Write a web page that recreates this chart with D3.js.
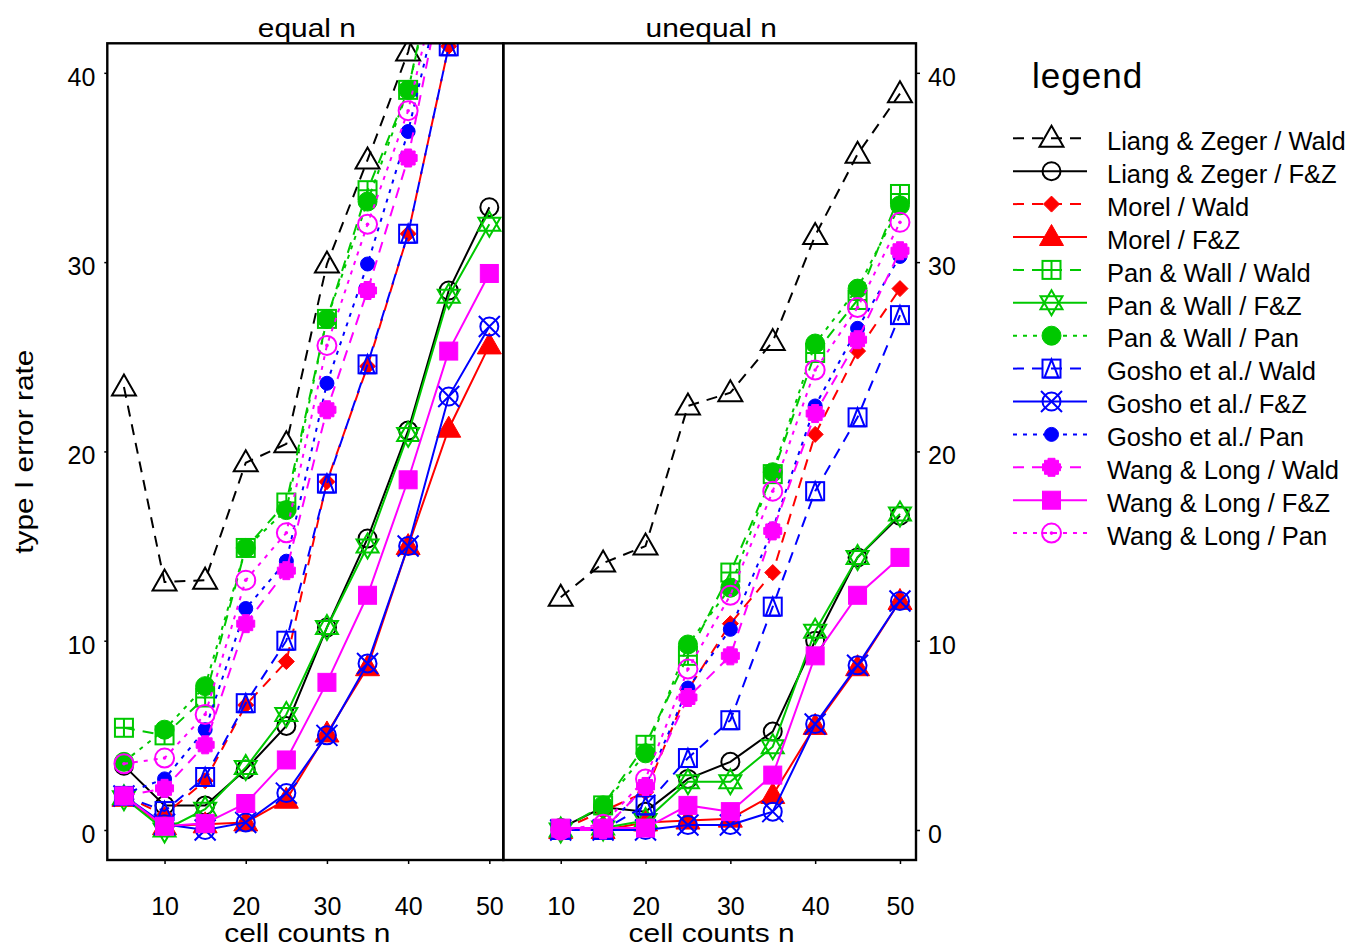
<!DOCTYPE html>
<html><head><meta charset="utf-8">
<script src="https://cdn.jsdelivr.net/npm/d3@7"></script>
<style>
html,body{margin:0;padding:0;background:#fff;}
svg{display:block;font-family:"Liberation Sans",Arial,Helvetica,sans-serif;}
</style></head><body>
<svg id="chart" width="1349" height="949"></svg>
<script>
// ---------------- DATA ----------------
const nEqual = [5, 10, 15, 20, 25, 30, 35, 40, 45, 50];
const nUnequal = [10, 15, 20, 25, 30, 35, 40, 45, 50];
const xTicks = [10, 20, 30, 40, 50];
const yTicks = [0, 10, 20, 30, 40];
const panelTitles = ["equal n", "unequal n"];
const xTitle = "cell counts n";
const yTitle = "type I error rate";
const legendTitle = "legend";

const seriesNames = [
  "Liang & Zeger / Wald", "Liang & Zeger / F&Z", "Morel / Wald", "Morel / F&Z",
  "Pan & Wall / Wald", "Pan & Wall / F&Z", "Pan & Wall / Pan",
  "Gosho et al./ Wald", "Gosho et al./ F&Z", "Gosho et al./ Pan",
  "Wang & Long / Wald", "Wang & Long / F&Z", "Wang & Long / Pan"
];

// equal n (n = 5..50)
const lzWaldEq   = [23.4, 13.1, 13.2, 19.4, 20.4, 29.9, 35.4, 41.1, 50.0, 56.0];
const lzFzEq     = [3.4, 1.3, 1.3, 3.2, 5.5, 10.7, 15.4, 21.1, 28.5, 32.9];
const morWaldEq  = [1.8, 0.8, 2.6, 6.6, 8.9, 18.4, 24.5, 31.5, 41.4, 51.0];
const morFzEq    = [1.7, 0.2, 0.3, 0.4, 1.6, 5.1, 8.6, 15.0, 21.2, 25.6];
const pwWaldEq   = [5.4, 5.0, 7.0, 14.9, 17.3, 27.0, 33.8, 39.1, 49.0, 55.0];
const pwFzEq     = [1.7, 0.0, 1.1, 3.3, 6.1, 10.7, 15.0, 20.9, 28.2, 32.0];
const pwPanEq    = [3.6, 5.3, 7.6, 14.9, 16.9, 27.0, 33.2, 39.1, 48.5, 54.0];
const goWaldEq   = [1.8, 1.0, 2.8, 6.7, 10.0, 18.3, 24.6, 31.5, 41.4, 51.0];
const goFzEq     = [1.8, 0.3, 0.0, 0.4, 1.95, 5.0, 8.8, 15.0, 22.9, 26.6];
const goPanEq    = [1.9, 2.7, 5.3, 11.7, 14.2, 23.6, 29.9, 36.9, 46.0, 52.0];
const wlWaldEq   = [1.8, 2.2, 4.5, 10.9, 13.7, 22.2, 28.5, 35.5, 46.3, 53.0];
const wlFzEq     = [1.8, 0.2, 0.35, 1.4, 3.7, 7.8, 12.4, 18.5, 25.3, 29.4];
const wlPanEq    = [3.5, 3.8, 6.1, 13.2, 15.7, 25.6, 32.0, 38.0, 47.2, 53.0];

// unequal n (n = 10..50)
const lzWaldUn   = [12.3, 14.1, 15.0, 22.4, 23.1, 25.8, 31.4, 35.7, 38.9];
const lzFzUn     = [0.1, 1.2, 0.97, 2.7, 3.6, 5.2, 10.0, 14.4, 16.6];
const morWaldUn  = [0.0, 1.0, 2.0, 7.4, 10.9, 13.6, 20.9, 25.3, 28.6];
const morFzUn    = [0.0, 0.0, 0.4, 0.5, 0.6, 1.85, 5.5, 8.6, 12.1];
const pwWaldUn   = [0.0, 1.3, 4.5, 9.2, 13.6, 18.8, 25.2, 28.0, 33.6];
const pwFzUn     = [0.0, 0.1, 0.5, 2.55, 2.55, 4.4, 10.5, 14.4, 16.7];
const pwPanUn    = [0.0, 1.3, 4.05, 9.8, 12.8, 18.9, 25.7, 28.6, 33.0];
const goWaldUn   = [0.0, 0.0, 1.3, 3.8, 5.8, 11.8, 17.9, 21.8, 27.2];
const goFzUn     = [0.0, 0.0, 0.0, 0.26, 0.26, 0.97, 5.6, 8.7, 12.1];
const goPanUn    = [0.0, 0.0, 2.3, 7.5, 10.6, 15.9, 22.4, 26.5, 30.3];
const wlWaldUn   = [0.0, 0.0, 2.3, 7.0, 9.2, 15.8, 22.0, 25.9, 30.6];
const wlFzUn     = [0.1, 0.1, 0.1, 1.3, 0.97, 2.9, 9.2, 12.4, 14.4];
const wlPanUn    = [0.0, 0.3, 2.7, 8.5, 12.4, 17.9, 24.3, 27.6, 32.1];

const equalValues = [lzWaldEq, lzFzEq, morWaldEq, morFzEq, pwWaldEq, pwFzEq, pwPanEq,
  goWaldEq, goFzEq, goPanEq, wlWaldEq, wlFzEq, wlPanEq];
const unequalValues = [lzWaldUn, lzFzUn, morWaldUn, morFzUn, pwWaldUn, pwFzUn, pwPanUn,
  goWaldUn, goFzUn, goPanUn, wlWaldUn, wlFzUn, wlPanUn];

// ---------------- STYLES ----------------
const BLACK = "#000000", RED = "#ff0000", GREEN = "#00c800", BLUE = "#0000ff", MAG = "#ff00ff";
const styles = [
  {color: BLACK, dash: "wald", mk: "triOpen"},
  {color: BLACK, dash: "solid", mk: "circleOpen"},
  {color: RED,   dash: "wald", mk: "diamond"},
  {color: RED,   dash: "solid", mk: "triFilled"},
  {color: GREEN, dash: "wald", mk: "squarePlus"},
  {color: GREEN, dash: "solid", mk: "star"},
  {color: GREEN, dash: "pan", mk: "circleFilled"},
  {color: BLUE,  dash: "wald", mk: "squareTri"},
  {color: BLUE,  dash: "solid", mk: "circleX"},
  {color: BLUE,  dash: "pan", mk: "dot"},
  {color: MAG,   dash: "wald", mk: "oct"},
  {color: MAG,   dash: "solid", mk: "squareFilled"},
  {color: MAG,   dash: "pan", mk: "circleDot"}
];
const dashArr = {wald: "11,8", solid: null, pan: "4,6"};

function marker(g, type, color) {
  const sw = 2;
  const open = sel => sel.attr("fill", "none").attr("stroke", color).attr("stroke-width", sw);
  const fill = sel => sel.attr("fill", color).attr("stroke", color).attr("stroke-width", 1);
  switch (type) {
    case "triOpen": open(g.append("path").attr("d", "M0,-12.5L12,8.5L-12,8.5Z")); break;
    case "triFilled": fill(g.append("path").attr("d", "M0,-12.5L12,8.5L-12,8.5Z")); break;
    case "circleOpen": open(g.append("circle").attr("r", 9)); break;
    case "diamond": fill(g.append("path").attr("d", "M0,-8L8,0L0,8L-8,0Z")); break;
    case "squarePlus":
      open(g.append("rect").attr("x", -9).attr("y", -9).attr("width", 18).attr("height", 18));
      open(g.append("path").attr("d", "M0,-9V9M-9,0H9")); break;
    case "star": open(g.append("path").attr("d", "M0,-12.5L11,6.5L-11,6.5Z M0,12.5L11,-6.5L-11,-6.5Z")); break;
    case "circleFilled": fill(g.append("circle").attr("r", 9.5)); break;
    case "squareTri":
      open(g.append("rect").attr("x", -9).attr("y", -9).attr("width", 18).attr("height", 18));
      open(g.append("path").attr("d", "M0,-9L7,9L-7,9Z")); break;
    case "circleX":
      open(g.append("circle").attr("r", 9));
      open(g.append("path").attr("d", "M-10.5,-10.5L10.5,10.5M10.5,-10.5L-10.5,10.5")); break;
    case "dot": fill(g.append("circle").attr("r", 7)); break;
    case "oct":
      fill(g.append("path").attr("d",
        "M-3.5,-9L3.5,-9L3.5,-7L7,-7L7,-3.5L9,-3.5L9,3.5L7,3.5L7,7L3.5,7L3.5,9L-3.5,9L-3.5,7L-7,7L-7,3.5L-9,3.5L-9,-3.5L-7,-3.5L-7,-7L-3.5,-7Z"));
      break;
    case "squareFilled": fill(g.append("rect").attr("x", -9).attr("y", -9).attr("width", 18).attr("height", 18)); break;
    case "circleDot":
      open(g.append("circle").attr("r", 9.5));
      g.append("circle").attr("r", 1.8).attr("fill", color); break;
  }
}

// ---------------- LAYOUT ----------------
const svg = d3.select("#chart");
const TOP = 43.3, BOTTOM = 860;
const y = d3.scaleLinear().domain([-1.585, 41.56]).range([BOTTOM, TOP]);
const TITLE_STRETCH = 1.15;

const panels = [
  {title: panelTitles[0], x0: 107.3, x1: 503.3, domain: [2.95, 51.72], n: nEqual, data: equalValues},
  {title: panelTitles[1], x0: 503.3, x1: 916, domain: [3.23, 51.89], n: nUnequal, data: unequalValues}
];

const defs = svg.append("defs");

function stretchedText(cx, by, size, txt, rot) {
  return svg.append("text")
    .attr("transform", `translate(${cx},${by})${rot ? " rotate(" + rot + ")" : ""} scale(${TITLE_STRETCH},1)`)
    .attr("text-anchor", "middle").attr("font-size", size).text(txt);
}

panels.forEach((p, pi) => {
  const x = d3.scaleLinear().domain(p.domain).range([p.x0, p.x1]);
  p.x = x;
  defs.append("clipPath").attr("id", "clip" + pi)
    .append("rect").attr("x", p.x0).attr("y", TOP).attr("width", p.x1 - p.x0).attr("height", BOTTOM - TOP);
  const g = svg.append("g").attr("clip-path", `url(#clip${pi})`);
  const line = d3.line().x(d => x(d[0])).y(d => y(d[1]));
  p.data.forEach((vals, si) => {
    const st = styles[si];
    const pts = p.n.map((nn, i) => [nn, vals[i]]);
    g.append("path").attr("d", line(pts)).attr("fill", "none")
      .attr("stroke", st.color).attr("stroke-width", 2)
      .attr("stroke-dasharray", dashArr[st.dash]);
    pts.forEach(d => {
      const mg = g.append("g").attr("transform", `translate(${x(d[0])},${y(d[1])})`);
      marker(mg, st.mk, st.color);
    });
  });

  // x axis
  const xa = svg.append("g").attr("transform", `translate(0,${BOTTOM})`)
    .call(d3.axisBottom(x).tickValues(xTicks).tickSize(4).tickFormat(d3.format("d")));
  xa.select(".domain").remove();
  xa.selectAll(".tick line").attr("stroke", "#000").attr("stroke-width", 1.5);
  xa.selectAll("text").attr("y", 55).attr("dy", 0).attr("font-size", 25)
    .attr("fill", "#000").style("font-family", "'Liberation Sans',Arial,sans-serif");

  // panel title and x title
  stretchedText((p.x0 + p.x1) / 2 + 1.5, 36.7, 26, p.title);
  stretchedText((p.x0 + p.x1) / 2 + 2, 942, 26, xTitle);
});

// y axes
const ya = svg.append("g").attr("transform", `translate(${panels[0].x0},0)`)
  .call(d3.axisLeft(y).tickValues(yTicks).tickSize(3).tickPadding(9));
ya.select(".domain").remove();
ya.selectAll(".tick line").attr("stroke", "#000").attr("stroke-width", 1.5);
ya.selectAll("text").attr("dy", 12.5).attr("font-size", 25).attr("fill", "#000")
  .style("font-family", "'Liberation Sans',Arial,sans-serif");

const yr = svg.append("g").attr("transform", `translate(${panels[1].x1},0)`)
  .call(d3.axisRight(y).tickValues(yTicks).tickSize(4).tickPadding(8));
yr.select(".domain").remove();
yr.selectAll(".tick line").attr("stroke", "#000").attr("stroke-width", 1.5);
yr.selectAll("text").attr("dy", 12.5).attr("font-size", 25).attr("fill", "#000")
  .style("font-family", "'Liberation Sans',Arial,sans-serif");

// frames
panels.forEach(p => {
  svg.append("rect").attr("x", p.x0).attr("y", TOP).attr("width", p.x1 - p.x0).attr("height", BOTTOM - TOP)
    .attr("fill", "none").attr("stroke", "#000").attr("stroke-width", 2.4);
});

// y title
stretchedText(33, (TOP + BOTTOM) / 2, 26, yTitle, -90);

// ---------------- LEGEND ----------------
svg.append("text").attr("x", 1032).attr("y", 88.3).attr("font-size", 35).attr("letter-spacing", 1)
  .text(legendTitle);
const leg = svg.append("g");
seriesNames.forEach((name, i) => {
  const st = styles[i];
  const ry = 138.3 + i * 32.9;
  leg.append("line").attr("x1", 1013).attr("x2", 1087).attr("y1", ry).attr("y2", ry)
    .attr("stroke", st.color).attr("stroke-width", 2).attr("stroke-dasharray", dashArr[st.dash]);
  const mg = leg.append("g").attr("transform", `translate(1051.5,${ry})`);
  marker(mg, st.mk, st.color);
  leg.append("text").attr("x", 1107).attr("y", ry + 11.7).attr("font-size", 25.5).text(name);
});
</script>
</body></html>
